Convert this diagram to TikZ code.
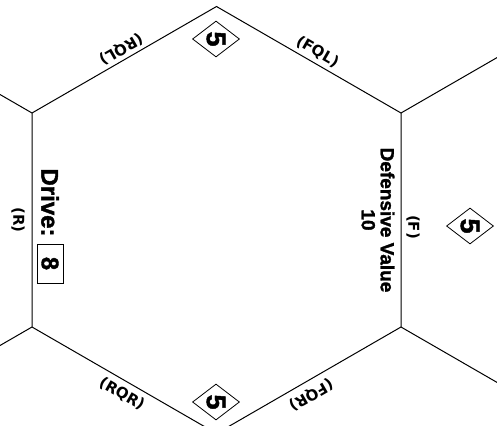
\documentclass[tikz,border=0pt]{standalone}
\usepackage{fontspec}
\setmainfont{Liberation Sans}
\newfontfamily\edgefont{DejaVu Sans Bold}
\newfontfamily\heavyfont[FakeBold=1.6]{Liberation Sans Bold}
\usetikzlibrary{shapes.geometric}
\begin{document}
\begin{tikzpicture}[x=1pt,y=-1pt,
  hexline/.style={line width=1pt,black},
  edgelabel/.style={font=\edgefont\fontsize{15}{17}\selectfont,inner sep=0pt},
  bigbold/.style={font=\heavyfont\fontsize{24}{26}\selectfont,inner sep=0pt},
  defbold/.style={font=\heavyfont\fontsize{19}{19}\selectfont,inner sep=0pt,align=center},
  valbox/.style={draw,line width=0.8pt,minimum width=39pt,minimum height=26pt,inner sep=0pt,font=\heavyfont\fontsize{24}{26}\selectfont},
  bonus/.style={draw,diamond,line width=0.8pt,aspect=1.3,minimum width=47pt,minimum height=36pt,inner sep=0pt,font=\heavyfont\fontsize{27}{28}\selectfont}
]
\useasboundingbox (0,0) rectangle (497,425);
\clip (0,0) rectangle (497,425);
% hexagon vertices
\coordinate (T)  at (216.5,6.5);
\coordinate (UL) at (32,113);
\coordinate (UR) at (401,113);
\coordinate (LL) at (32,327);
\coordinate (LR) at (401,327);
\coordinate (B)  at (216.5,433.5);
% neighbouring edges
\coordinate (oUL) at (0,94.5);
\coordinate (oUR) at (497,57.6);
\coordinate (oLL) at (0,345.5);
\coordinate (oLR) at (497,382.4);
\draw[hexline] (T) -- (UR) -- (LR) -- (B) -- (LL) -- (UL) -- cycle;
\draw[hexline] (UL) -- (oUL);
\draw[hexline] (UR) -- (oUR);
\draw[hexline] (LL) -- (oLL);
\draw[hexline] (LR) -- (oLR);
% edge labels
\node[edgelabel,rotate=210] (rql) at (121,49) {(RQL)};
\node[edgelabel,rotate=-30] (fql) at (317.5,52) {(FQL)};
\node[edgelabel,rotate=-90] (r) at (18,220) {(R)};
\node[edgelabel,rotate=-90] (f) at (413,227) {(F)};
\node[edgelabel,rotate=-30] (rqr) at (122,394) {(RQR)};
\node[edgelabel,rotate=210] (fqr) at (311,395) {(FQR)};
% values
\node[bigbold,rotate=-90] (drive) at (50,202.5) {Drive:};
\node[valbox,rotate=-90] (drv) at (50,263.5) {8};
\node[defbold,rotate=-90] (def) at (378,220) {Defensive Value\\10};
% bonus diamonds
\node[bonus] (d1) at (216,39) {\rotatebox{-90}{5}};
\node[bonus] (d2) at (470,226) {\rotatebox{-90}{5}};
\node[bonus] (d3) at (216,402) {\rotatebox{-90}{5}};
\end{tikzpicture}
\end{document}
